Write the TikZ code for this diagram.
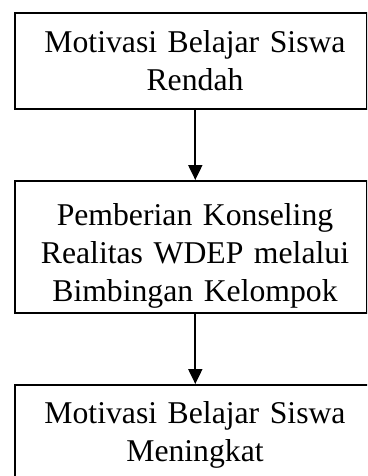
\documentclass[tikz,border=0pt]{standalone}
\usepackage{fontspec}
\setmainfont{Liberation Serif}
\usetikzlibrary{arrows.meta}
\begin{document}
\begin{tikzpicture}[x=1pt,y=-1pt,
  boxnode/.style={draw=black, line width=2pt, rectangle, inner sep=0pt, anchor=north west},
  txt/.style={anchor=base, text width=350pt, align=center, inner sep=0pt,
    font=\fontsize{31.7}{38}\selectfont},
  conn/.style={line width=2pt, -{Triangle[width=14pt,length=15pt]}}]
\useasboundingbox (0,0) rectangle (367,476);
\clip (0,0) rectangle (367,476);
\node[boxnode, minimum width=352.5pt, minimum height=96.3pt] (b1) at (13.5,11.7) {};
\node[boxnode, minimum width=352.5pt, minimum height=131.7pt] (b2) at (13.5,180) {};
\node[boxnode, minimum width=360pt, minimum height=96pt] (b3) at (13.5,384) {};
\node[txt] (t1) at (195,53) {Motivasi Belajar Siswa\\Rendah};
\node[txt] (t2) at (195,225) {Pemberian Konseling\\Realitas WDEP melalui\\Bimbingan Kelompok};
\node[txt] (t3) at (195,423) {Motivasi Belajar Siswa\\Meningkat};
\coordinate (ax) at (195.3,0);
\draw[conn] (b1.south -| ax) -- (b2.north -| ax);
\draw[conn] (b2.south -| ax) -- (b3.north -| ax);
\end{tikzpicture}
\end{document}
